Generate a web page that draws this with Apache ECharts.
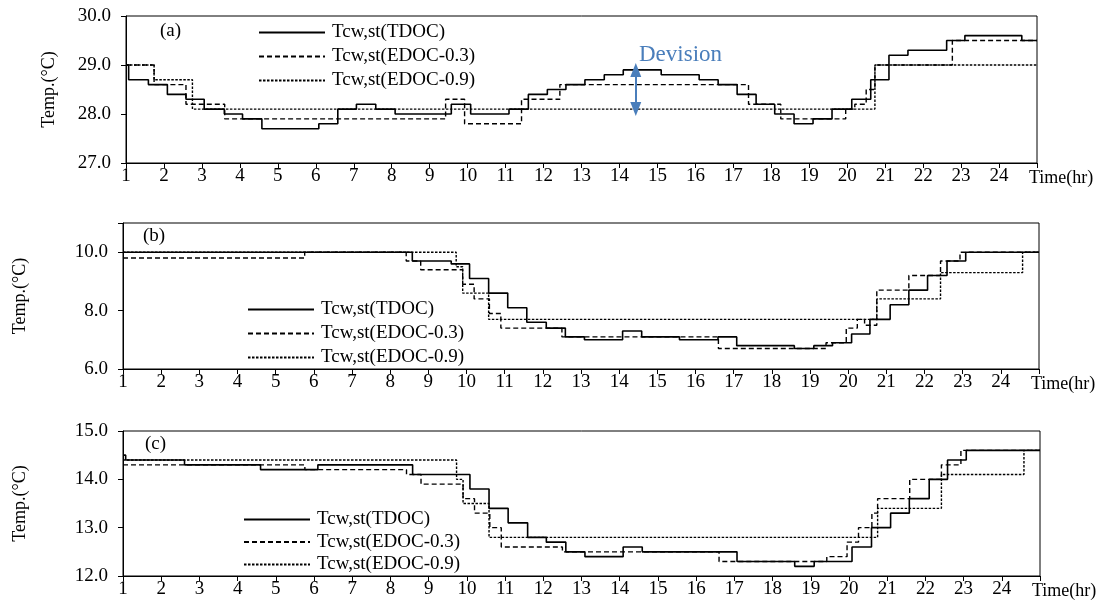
<!DOCTYPE html>
<html>
<head>
<meta charset="utf-8">
<script src="https://cdn.jsdelivr.net/npm/echarts@6/dist/echarts.min.js"></script>
<style>
  html, body { margin: 0; padding: 0; background: #fff; }
  #chart { width: 1105px; height: 606px; }
</style>
</head>
<body>
<div id="chart"></div>
<script>
// names of the three strategies
const seriesNames = ['Tcw,st(TDOC)', 'Tcw,st(EDOC-0.3)', 'Tcw,st(EDOC-0.9)'];

// (a) change times (hr) and new values (°C)
const tA_TDOC = [1, 1.07, 1.59, 2.09, 2.58, 3.06, 3.59, 4.07, 4.58, 6.08, 6.58, 7.07, 7.58, 8.09, 9.57, 10.08, 11.09, 11.6, 12.1, 12.59, 13.09, 13.6, 14.1, 15.1, 16.1, 16.6, 17.1, 17.6, 18.09, 18.6, 19.1, 19.6, 20.12, 20.62, 21.1, 21.6, 22.62, 23.1, 24.6, 25];
const vA_TDOC = [29.0, 28.7, 28.6, 28.4, 28.3, 28.1, 28.0, 27.9, 27.7, 27.8, 28.1, 28.2, 28.1, 28.0, 28.2, 28.0, 28.1, 28.4, 28.5, 28.6, 28.7, 28.8, 28.9, 28.8, 28.7, 28.6, 28.4, 28.2, 28.0, 27.8, 27.9, 28.1, 28.3, 28.7, 29.2, 29.3, 29.5, 29.6, 29.5, 29.5];
const tA_03 = [1, 1.74, 2.58, 3.6, 9.42, 9.92, 11.42, 12.43, 17.4, 18.25, 19.96, 20.2, 20.5, 20.73, 22.77, 25];
const vA_03 = [29.0, 28.6, 28.2, 27.9, 28.3, 27.8, 28.3, 28.6, 28.2, 27.9, 28.1, 28.2, 28.5, 29.0, 29.5, 29.5];
const tA_09 = [1, 1.74, 2.75, 20.73, 25];
const vA_09 = [29.0, 28.7, 28.1, 29.0, 29.0];

// (b)
const tB_TDOC = [1, 8.58, 9.6, 10.08, 10.58, 11.08, 11.58, 12.09, 12.59, 13.09, 14.09, 14.59, 15.58, 16.59, 17.08, 18.59, 19.1, 19.59, 20.09, 20.57, 21.1, 21.59, 22.08, 22.59, 23.08, 25];
const vB_TDOC = [10.0, 9.7, 9.6, 9.1, 8.6, 8.1, 7.6, 7.4, 7.1, 7.0, 7.3, 7.1, 7.0, 7.1, 6.8, 6.7, 6.8, 6.9, 7.2, 7.7, 8.2, 8.7, 9.2, 9.7, 10.0, 10.0];
const tB_03 = [1, 5.76, 8.42, 8.8, 9.9, 10.2, 10.6, 10.9, 12.5, 16.6, 19.42, 19.95, 20.24, 20.43, 20.75, 21.59, 22.42, 22.93, 25];
const vB_03 = [9.8, 10.0, 9.7, 9.4, 8.9, 8.4, 7.9, 7.4, 7.1, 6.7, 6.9, 7.4, 7.7, 7.5, 8.7, 9.2, 9.7, 10.0, 10.0];
const tB_09 = [1, 9.73, 9.9, 10.58, 20.75, 22.42, 24.57, 25];
const vB_09 = [10.0, 9.5, 8.6, 7.7, 8.4, 9.3, 10.0, 10.0];

// (c)
const tC_TDOC = [1, 1.07, 2.61, 4.6, 6.1, 8.58, 10.08, 10.58, 11.08, 11.59, 12.08, 12.59, 13.09, 14.09, 14.59, 17.07, 18.58, 19.09, 20.08, 20.59, 21.09, 21.58, 22.1, 22.58, 23.07, 25];
const vC_TDOC = [14.5, 14.4, 14.3, 14.2, 14.3, 14.1, 13.8, 13.4, 13.1, 12.8, 12.7, 12.5, 12.4, 12.6, 12.5, 12.3, 12.2, 12.3, 12.6, 13.0, 13.3, 13.6, 14.0, 14.4, 14.6, 14.6];
const tC_03 = [1, 5.76, 8.42, 8.8, 9.9, 10.2, 10.6, 10.9, 12.5, 16.6, 19.42, 19.95, 20.25, 20.6, 20.75, 21.59, 22.42, 22.93, 25];
const vC_03 = [14.3, 14.2, 14.1, 13.9, 13.6, 13.3, 13.0, 12.6, 12.5, 12.3, 12.4, 12.7, 13.0, 13.3, 13.6, 14.0, 14.3, 14.6, 14.6];
const tC_09 = [1, 9.73, 9.9, 10.58, 20.75, 22.42, 24.58, 25];
const vC_09 = [14.4, 14.0, 13.5, 12.8, 13.4, 14.1, 14.6, 14.6];

// y ranges for each panel
const yMin = [27, 6, 12];
const yMax = [30, 11, 15];
const yStep = [1, 2, 1];

// time where the "Devision" arrow sits
const devisionAt = 14.43;

const FONT = "'Liberation Serif', 'Times New Roman', serif";
const BLUE = '#4A7EBB';

const pairs = (t, v) => t.map((x, i) => [x, v[i]]);
// value of a step series at time x
const valueAt = (t, v, x) => {
   let r = v[0];
   t.forEach((tt, i) => { if (tt <= x) r = v[i]; });
   return r;
};

const grids = [
   { left: 126, right: 68, top: 16, height: 147 },
   { left: 123, right: 66, top: 223, height: 146 },
   { left: 123, right: 65, top: 431, height: 145 },
];
const legendPos = [
   { left: 258, top: 23, itemGap: 5 },
   { left: 247, top: 300, itemGap: 5 },
   { left: 243, top: 510, itemGap: 3.5 },
];
const yNameGap = [68, 94, 94];

const lineStyles = [
   { color: '#000', width: 1.6, type: 'solid' },
   { color: '#000', width: 1.4, type: [5, 3] },
   { color: '#000', width: 1.4, type: [2.5, 1.5] },
];

const panelData = [
   [pairs(tA_TDOC, vA_TDOC), pairs(tA_03, vA_03), pairs(tA_09, vA_09)],
   [pairs(tB_TDOC, vB_TDOC), pairs(tB_03, vB_03), pairs(tB_09, vB_09)],
   [pairs(tC_TDOC, vC_TDOC), pairs(tC_03, vC_03), pairs(tC_09, vC_09)],
];

let xAxis = [];
let yAxis = [];
let series = [];
let legend = [];

grids.forEach((g, i) => {
   xAxis.push({
      type: 'value',
      gridIndex: i,
      min: 1,
      max: 25,
      interval: 1,
      name: 'Time(hr)',
      nameLocation: 'end',
      nameGap: -8,
      nameTextStyle: {
         fontFamily: FONT, fontSize: 18, color: '#000',
         verticalAlign: 'top', align: 'left', padding: [6, 0, 0, 0]
      },
      axisLine: { lineStyle: { color: '#000', width: 1 } },
      axisTick: { length: 5, lineStyle: { color: '#000' } },
      axisLabel: {
         margin: 4,
         fontFamily: FONT, fontSize: 19, color: '#000',
         formatter: (v) => v === 25 ? '' : String(v)
      },
      splitLine: { show: false },
   });
   yAxis.push({
      type: 'value',
      gridIndex: i,
      min: yMin[i],
      max: yMax[i],
      interval: yStep[i],
      name: 'Temp.(°C)',
      nameLocation: 'middle',
      nameRotate: 90,
      nameGap: yNameGap[i],
      nameTextStyle: { fontFamily: FONT, fontSize: 18, color: '#000' },
      axisLine: { show: true, lineStyle: { color: '#000', width: 1 } },
      axisTick: { show: true, length: 5, lineStyle: { color: '#000' } },
      axisLabel: {
         margin: 15,
         fontFamily: FONT, fontSize: 19, color: '#000',
         formatter: (v) => (i === 1 && v === 11) ? '' : v.toFixed(1)
      },
      splitLine: { show: false },
   });
   seriesNames.forEach((name, k) => {
      let s = {
         type: 'line',
         name,
         xAxisIndex: i,
         yAxisIndex: i,
         step: 'end',
         symbol: 'none',
         color: '#000',
         lineStyle: lineStyles[k],
         data: panelData[i][k],
         z: 3 - k,
      };
      if (i === 0 && k === 0) {
         s.markLine = {
            silent: true,
            symbol: ['triangle', 'triangle'],
            symbolSize: [11, 14],
            label: { show: false },
            lineStyle: { color: BLUE, width: 2, type: 'solid' },
            data: [[
               { coord: [devisionAt, valueAt(tA_TDOC, vA_TDOC, devisionAt)] },
               { coord: [devisionAt, valueAt(tA_09, vA_09, devisionAt)] },
            ]],
         };
      }
      series.push(s);
   });
   legend.push({
      orient: 'vertical',
      left: legendPos[i].left,
      top: legendPos[i].top,
      padding: 0,
      itemGap: legendPos[i].itemGap,
      itemWidth: 66,
      itemHeight: 14,
      selectedMode: false,
      itemStyle: { opacity: 0 },
      data: seriesNames,
      textStyle: { fontFamily: FONT, fontSize: 19, color: '#000', padding: [0, 0, 0, 2] },
   });
});

const chart = echarts.init(document.getElementById('chart'), null, { renderer: 'canvas' });
chart.setOption({
   animation: false,
   backgroundColor: '#fff',
   grid: grids.map((g) => Object.assign({ show: true, borderColor: '#000', borderWidth: 1 }, g)),
   xAxis,
   yAxis,
   legend,
   series,
   graphic: [
      { type: 'text', left: 160, top: 22, style: { text: '(a)', font: '19px ' + FONT, fill: '#000' } },
      { type: 'text', left: 143, top: 227, style: { text: '(b)', font: '19px ' + FONT, fill: '#000' } },
      { type: 'text', left: 145, top: 435, style: { text: '(c)', font: '19px ' + FONT, fill: '#000' } },
      { type: 'text', left: 639, top: 43, style: { text: 'Devision', font: '23px ' + FONT, fill: BLUE } },
   ],
});
</script>
</body>
</html>
